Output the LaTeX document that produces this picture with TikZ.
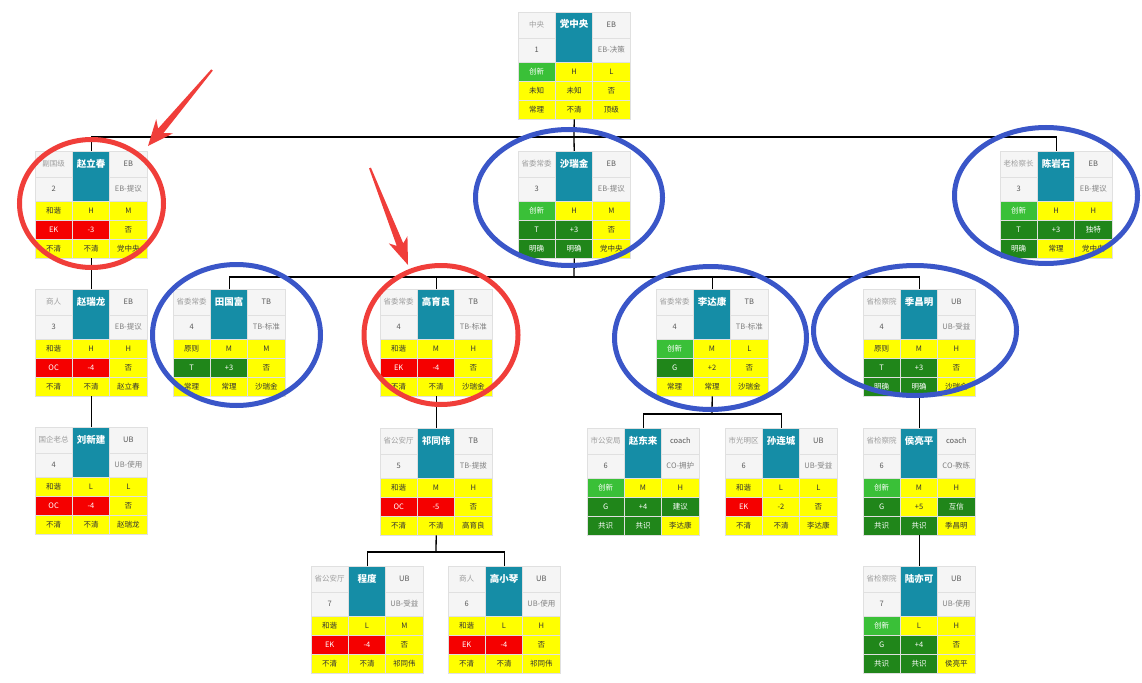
\documentclass[tikz,border=0pt]{standalone}
\usepackage{fontspec}
\setmainfont{Noto Sans CJK SC}
\usetikzlibrary{calc,shapes.geometric}

\definecolor{headblue}{RGB}{21,141,166}
\definecolor{cellyellow}{RGB}{255,255,0}
\definecolor{lightgreen}{RGB}{58,192,56}
\definecolor{darkgreen}{RGB}{32,134,26}
\definecolor{cellred}{RGB}{245,0,0}
\definecolor{ringred}{RGB}{240,62,58}
\definecolor{ringblue}{RGB}{58,86,200}

% #1 name, #2/#3 top left, #4 role, #5 person, #6 type, #7 level, #8 sub type, #9 cells
\newcommand{\card}[9]{%
\begin{scope}[shift={(#2,#3)}]
\node[cardbox] (#1) at (0,0) {};
\node[cell, graycell, minimum height=26pt, text=black!38, font=\fontsize{7.5}{8}\selectfont] (#1-role) at (18.67,13) {#4};
\node[cell, fill=headblue, minimum height=50pt, text height=9pt, text depth=27pt, text=white, font=\fontsize{9.5}{10}\selectfont\bfseries] (#1-name) at (56,25) {#5};
\node[cell, graycell, minimum height=26pt, text=black!65] (#1-type) at (93.33,13) {#6};
\node[cell, graycell, minimum height=24pt, text=black!65] (#1-lvl) at (18.67,38) {#7};
\node[cell, graycell, minimum height=24pt, text=black!50, font=\fontsize{7.5}{8}\selectfont] (#1-sub) at (93.33,38) {#8};
\foreach \s/\t [count=\i from 0] in {#9} {
  \pgfmathtruncatemacro\col{mod(\i,3)}
  \pgfmathtruncatemacro\row{div(\i,3)}
  \node[cell, \s] (#1-\i) at ({18.67+37.33*\col},{59.5+19*\row}) {\t};
}
\end{scope}}

\begin{document}
\begin{tikzpicture}[
    x=1pt, y=-1pt,
    cardbox/.style={anchor=north west, minimum width=112pt, minimum height=107pt, inner sep=0pt},
    cell/.style={rectangle, draw=black!12, line width=0.4pt, minimum width=37.33pt, minimum height=19pt, inner sep=0pt, font=\fontsize{7.5}{8}\selectfont},
    graycell/.style={fill=black!4},
    cy/.style={fill=cellyellow, text=black!80},
    cg/.style={fill=lightgreen, text=white},
    cd/.style={fill=darkgreen, text=white},
    cr/.style={fill=cellred, text=white},
    link/.style={draw=black, line width=1.3pt},
    ring/.style={ellipse, draw, line width=5pt, inner sep=0pt},
    arrowred/.style={fill=ringred}
]
\fill[white] (0,0) rectangle (1142,682);
\useasboundingbox (0,0) rectangle (1142,682);

\coordinate (j1) at (574,137);
\coordinate (j2) at (574,277);
\coordinate (j3) at (712,414);
\coordinate (j4) at (436,552);

\card{zy}{518}{12}{中央}{党中央}{EB}{1}{EB-决策}{cg/创新, cy/H, cy/L, cy/未知, cy/未知, cy/否, cy/常理, cy/不清, cy/顶级}
\card{zlc}{35}{151}{副国级}{赵立春}{EB}{2}{EB-提议}{cy/和谐, cy/H, cy/M, cr/EK, cr/-3, cy/否, cy/不清, cy/不清, cy/党中央}
\card{srj}{518}{151}{省委常委}{沙瑞金}{EB}{3}{EB-提议}{cg/创新, cy/H, cy/M, cd/T, cd/+3, cy/否, cd/明确, cd/明确, cy/党中央}
\card{cys}{1000}{151}{老检察长}{陈岩石}{EB}{3}{EB-提议}{cg/创新, cy/H, cy/H, cd/T, cd/+3, cd/独特, cd/明确, cy/常理, cy/党中央}
\card{zrl}{35}{289}{商人}{赵瑞龙}{EB}{3}{EB-提议}{cy/和谐, cy/H, cy/H, cr/OC, cr/-4, cy/否, cy/不清, cy/不清, cy/赵立春}
\card{tgf}{173}{289}{省委常委}{田国富}{TB}{4}{TB-标准}{cy/原则, cy/M, cy/M, cd/T, cd/+3, cy/否, cy/常理, cy/常理, cy/沙瑞金}
\card{gyl}{380}{289}{省委常委}{高育良}{TB}{4}{TB-标准}{cy/和谐, cy/M, cy/H, cr/EK, cr/-4, cy/否, cy/不清, cy/不清, cy/沙瑞金}
\card{ldk}{656}{289}{省委常委}{李达康}{TB}{4}{TB-标准}{cg/创新, cy/M, cy/L, cd/G, cy/+2, cy/否, cy/常理, cy/常理, cy/沙瑞金}
\card{jcm}{863}{289}{省检察院}{季昌明}{UB}{4}{UB-受益}{cy/原则, cy/M, cy/H, cd/T, cd/+3, cy/否, cd/明确, cd/明确, cy/沙瑞金}
\card{lxj}{35}{427}{国企老总}{刘新建}{UB}{4}{UB-使用}{cy/和谐, cy/L, cy/L, cr/OC, cr/-4, cy/否, cy/不清, cy/不清, cy/赵瑞龙}
\card{qtw}{380}{428}{省公安厅}{祁同伟}{TB}{5}{TB-提拔}{cy/和谐, cy/M, cy/H, cr/OC, cr/-5, cy/否, cy/不清, cy/不清, cy/高育良}
\card{zdl}{587}{428}{市公安局}{赵东来}{coach}{6}{CO-拥护}{cg/创新, cy/M, cy/H, cd/G, cd/+4, cd/建议, cd/共识, cd/共识, cy/李达康}
\card{slc}{725}{428}{市光明区}{孙连城}{UB}{6}{UB-受益}{cy/和谐, cy/L, cy/L, cr/EK, cy/-2, cy/否, cy/不清, cy/不清, cy/李达康}
\card{hlp}{863}{428}{省检察院}{侯亮平}{coach}{6}{CO-教练}{cg/创新, cy/M, cy/H, cd/G, cy/+5, cd/互信, cd/共识, cd/共识, cy/季昌明}
\card{cd}{311}{566}{省公安厅}{程度}{UB}{7}{UB-受益}{cy/和谐, cy/L, cy/M, cr/EK, cr/-4, cy/否, cy/不清, cy/不清, cy/祁同伟}
\card{gxq}{448}{566}{商人}{高小琴}{UB}{6}{UB-使用}{cy/和谐, cy/L, cy/H, cr/EK, cr/-4, cy/否, cy/不清, cy/不清, cy/祁同伟}
\card{lyk}{863}{566}{省检察院}{陆亦可}{UB}{7}{UB-使用}{cg/创新, cy/L, cy/H, cd/G, cd/+4, cy/否, cd/共识, cd/共识, cy/侯亮平}

\draw[link] (zy.south) -- (j1);
\draw[link] (zlc.north) |- (j1) -| (cys.north);
\draw[link] (j1) -- (srj.north);
\draw[link] (srj.south) -- (j2);
\draw[link] (tgf.north) |- (j2) -| (jcm.north);
\draw[link] (gyl.north) |- (j2);
\draw[link] (ldk.north) |- (j2);
\draw[link] (zlc.south) -- (zrl.north);
\draw[link] (zrl.south) -- (lxj.north);
\draw[link] (gyl.south) -- (qtw.north);
\draw[link] (ldk.south) -- (j3);
\draw[link] (zdl.north) |- (j3) -| (slc.north);
\draw[link] (qtw.south) -- (j4);
\draw[link] (cd.north) |- (j4) -| (gxq.north);
\draw[link] (jcm.south) -- (hlp.north);
\draw[link] (hlp.south) -- (lyk.north);

\node[ring, ringred, minimum width=144pt, minimum height=128pt] (mark1) at (91.5,203.5) {};
\node[ring, ringred, minimum width=154pt, minimum height=139pt] (mark2) at (441,335) {};
\node[ring, ringblue, minimum width=187pt, minimum height=136pt] (mark3) at (569,197.5) {};
\node[ring, ringblue, minimum width=183pt, minimum height=136pt] (mark4) at (1046,195.5) {};
\node[ring, ringblue, minimum width=168pt, minimum height=141pt] (mark5) at (236.5,335) {};
\node[ring, ringblue, minimum width=192pt, minimum height=143pt] (mark6) at (710.5,338) {};
\node[ring, ringblue, minimum width=203pt, minimum height=130pt] (mark7) at (915,330.5) {};

\coordinate (a1t) at (212,70);
\coordinate (a1h) at (148,146);
\coordinate (a1n) at ($(a1t)!0.8!(a1h)$);
\coordinate (a1b) at ($(a1t)!0.74!(a1h)$);
\fill[arrowred] ($(a1t)!1pt!90:(a1h)$) -- ($(a1n)!3.5pt!90:(a1h)$) -- ($(a1b)!11pt!90:(a1h)$) -- (a1h)
  -- ($(a1b)!11pt!-90:(a1h)$) -- ($(a1n)!3.5pt!-90:(a1h)$) -- ($(a1t)!1pt!-90:(a1h)$) -- cycle;

\coordinate (a2t) at (370,168);
\coordinate (a2h) at (408,265);
\coordinate (a2n) at ($(a2t)!0.79!(a2h)$);
\coordinate (a2b) at ($(a2t)!0.74!(a2h)$);
\fill[arrowred] ($(a2t)!1pt!90:(a2h)$) -- ($(a2n)!3.5pt!90:(a2h)$) -- ($(a2b)!10pt!90:(a2h)$) -- (a2h)
  -- ($(a2b)!10pt!-90:(a2h)$) -- ($(a2n)!3.5pt!-90:(a2h)$) -- ($(a2t)!1pt!-90:(a2h)$) -- cycle;
\end{tikzpicture}
\end{document}
